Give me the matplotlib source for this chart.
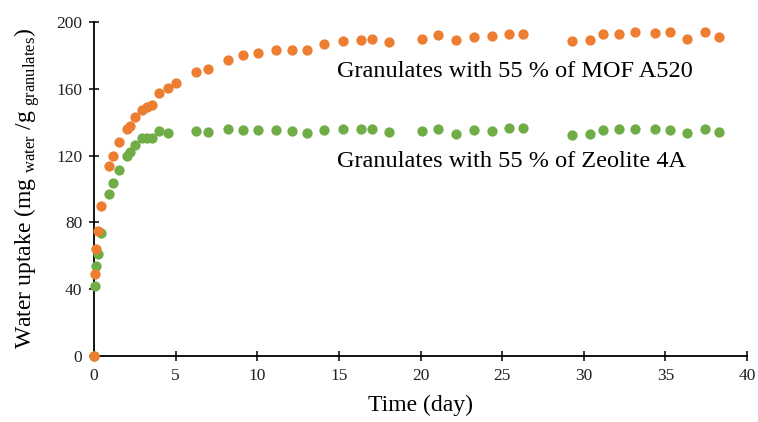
import numpy as np
import matplotlib
matplotlib.use("Agg")
import matplotlib.pyplot as plt

plt.rcParams["font.family"] = ["Liberation Serif", "DejaVu Serif"]
plt.rcParams["mathtext.fontset"] = "custom"
plt.rcParams["mathtext.rm"] = "Liberation Serif"

# Sampling times (day)
days = [0, 0.04, 0.14, 0.27, 0.41, 0.94, 1.18, 1.51, 2.0, 2.2, 2.51, 2.92,
        3.23, 3.53, 3.98, 4.52, 5.04, 6.27, 7.0, 8.2, 9.15, 10.06, 11.15,
        12.1, 13.07, 14.09, 15.27, 16.34, 17.05, 18.05, 20.1, 21.1, 22.17,
        23.25, 24.4, 25.42, 26.3, 29.28, 30.38, 31.16, 32.16, 33.14, 34.36,
        35.3, 36.3, 37.4, 38.28]

# Water uptake (mg water / g granulates)
mof_a520 = [0, 49, 64, 75, 90, 114, 120, 128, 136, 138, 143, 147,
            149, 150.5, 157.5, 160.7, 163.7, 170, 172, 177.5, 180, 181.6, 183,
            183.4, 183.4, 187, 188.6, 189.2, 190, 187.8, 190, 192.2, 189.2,
            191.2, 191.8, 193, 192.8, 188.6, 189.2, 192.8, 192.8, 193.8, 193.4,
            193.8, 189.8, 193.8, 190.8]

zeolite_4a = [0, 42, 54, 61, 73.5, 97, 103.4, 111.4, 119.8, 122.3, 126.3, 130.3,
              130.3, 130.7, 134.7, 133.7, np.nan, 134.8, 134.3, 135.8, 135.5, 135.5, 135.5,
              134.9, 133.3, 135.3, 135.7, 135.7, 135.7, 134.3, 134.9, 135.7, 132.9,
              135.1, 134.9, 136.3, 136.3, 132.3, 132.7, 135.3, 135.7, 135.7, 135.7,
              135.3, 133.3, 135.7, 133.9]

fig = plt.figure(figsize=(7.58, 4.22), dpi=100)
ax = fig.add_axes([0.124, 0.1564, 0.8615, 0.7915])

ax.plot(days, zeolite_4a, "o", color="#70AD47", markersize=7.4,
        markeredgewidth=0, clip_on=False, zorder=3)
ax.plot(days, mof_a520, "o", color="#ED7D31", markersize=7.4,
        markeredgewidth=0, clip_on=False, zorder=4)

ax.set_xlim(0, 40)
ax.set_ylim(0, 200)
ax.set_xticks(range(0, 41, 5))
ax.set_yticks(range(0, 201, 40))
for side in ("top", "right"):
    ax.spines[side].set_visible(False)
for side in ("left", "bottom"):
    ax.spines[side].set_linewidth(1.3)
ax.tick_params(direction="inout", length=7, width=1.1, labelsize=12.5, pad=5)
for lbl in ax.get_xticklabels() + ax.get_yticklabels():
    lbl.set_color("#222222")

ax.set_xlabel("Time (day)", fontsize=17, labelpad=8)
ax.set_ylabel(r"Water uptake (mg$_{\ \rm water}$ /g$_{\ \rm granulates}$)",
              fontsize=17, labelpad=10)

ax.text(14.86, 167.2, "Granulates with 55 % of MOF A520", fontsize=17.5,
        va="baseline", ha="left")
ax.text(14.86, 113.4, "Granulates with 55 % of Zeolite 4A", fontsize=17.5,
        va="baseline", ha="left")

fig.savefig("out.png", dpi=100)
